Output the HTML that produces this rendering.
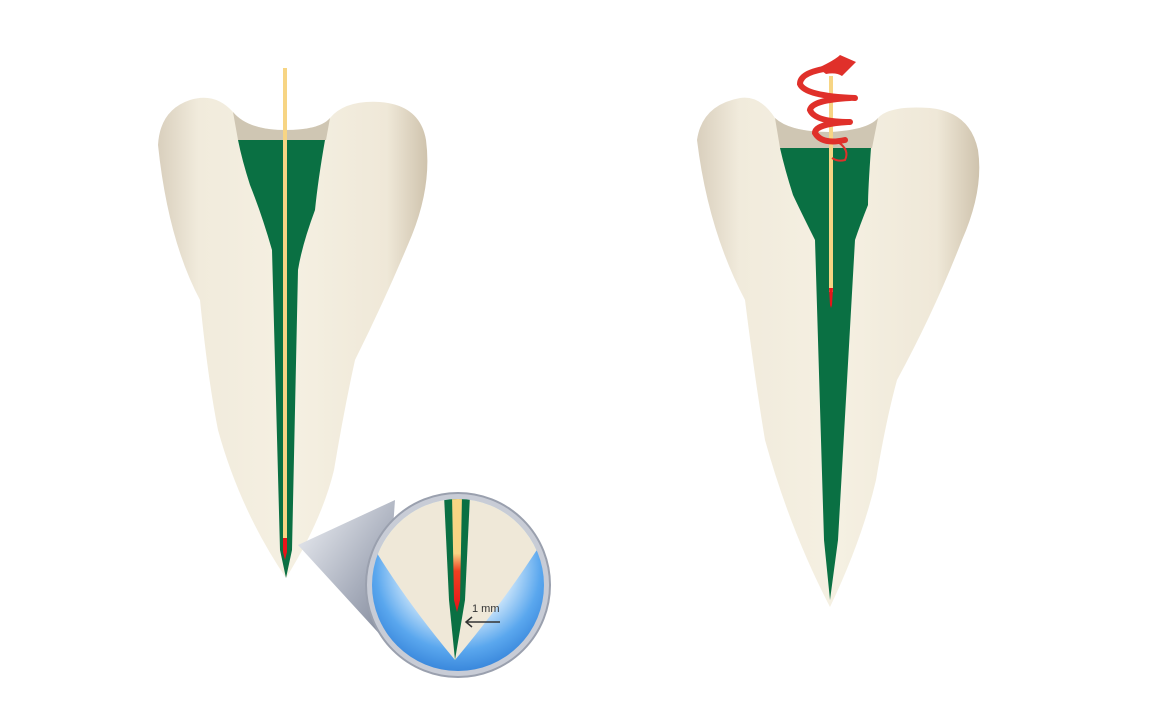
<!DOCTYPE html>
<html><head><meta charset="utf-8"><style>
html,body{margin:0;padding:0;background:#fff;}
svg{display:block;}
</style></head><body>
<svg width="1167" height="722" viewBox="0 0 1167 722" xmlns="http://www.w3.org/2000/svg">
<defs>
<linearGradient id="tooth" x1="0" x2="1" y1="0" y2="0">
<stop offset="0" stop-color="#d9cfbd"/><stop offset="0.15" stop-color="#f1ebdc"/><stop offset="0.5" stop-color="#f5f0e2"/><stop offset="0.85" stop-color="#efe8d8"/><stop offset="1" stop-color="#cfc3ad"/>
</linearGradient>
<linearGradient id="cone" x1="0" x2="1" y1="0" y2="1">
<stop offset="0" stop-color="#f0f2f6"/><stop offset="0.6" stop-color="#a9afbd"/><stop offset="1" stop-color="#7d8496"/>
</linearGradient>
<radialGradient id="blue" cx="0.5" cy="0.4" r="0.6">
<stop offset="0.5" stop-color="#cfe7fb"/><stop offset="0.8" stop-color="#5aa7ee"/><stop offset="1" stop-color="#3a88dc"/>
</radialGradient>
<linearGradient id="tip" x1="0" x2="0" y1="0" y2="1">
<stop offset="0" stop-color="#f7d584"/><stop offset="0.5" stop-color="#f7d584"/><stop offset="0.65" stop-color="#f04020"/><stop offset="1" stop-color="#e8141a"/>
</linearGradient>
<clipPath id="circ"><circle cx="458" cy="585" r="86"/></clipPath>
</defs>

<!-- LEFT TOOTH -->
<path d="M233,112 Q215,92 190,100 Q160,110 158,145 Q168,240 200,300 Q208,380 218,430 Q240,510 286,578 Q322,520 334,470 Q344,410 355,360 Q385,300 412,235 Q432,185 426,140 Q420,105 380,102 Q345,100 330,118 Q320,130 285,130 Q248,130 233,112 Z" fill="url(#tooth)"/>
<path d="M233,112 Q248,130 285,130 Q320,130 330,118 L326,140 L238,140 Z" fill="#cfc6b3"/>
<path d="M238,140 L325,140 Q318,180 315,210 Q302,245 298,270 L292,550 L286,578 L280,550 L272,250 Q262,215 250,185 Q242,160 238,140 Z" fill="#0a7043"/>
<rect x="283" y="68" width="4" height="480" fill="#f7d584"/>
<path d="M283,538 L287,538 L287,552 L285,560 L283,552 Z" fill="#e8141a"/>

<!-- magnifier cone -->
<path d="M298,545 L395,500 L385,640 Z" fill="url(#cone)"/>
<circle cx="458" cy="585" r="92" fill="#c8ccd6" stroke="#9aa0ae" stroke-width="2"/>
<circle cx="458" cy="585" r="86" fill="url(#blue)"/>
<g clip-path="url(#circ)">
<path d="M360,495 L372,545 Q405,600 455,660 Q505,600 540,545 L556,495 Z" fill="#efe8d8"/>
<path d="M444,495 L470,495 L465,600 L455,660 L449,600 Z" fill="#0a7043"/>
<path d="M452,495 L462,495 L460,600 L457,612 L454,600 Z" fill="url(#tip)"/>
</g>
<text x="472" y="612" font-family="Liberation Sans, sans-serif" font-size="11" fill="#333">1 mm</text>
<path d="M500,622 L466,622 M472,617 L466,622 L472,627" stroke="#333" stroke-width="1.5" fill="none"/>

<!-- RIGHT TOOTH -->
<path d="M775,118 Q760,95 740,98 Q702,105 697,140 Q708,230 745,300 Q755,380 765,440 Q790,530 830,607 Q862,540 876,480 Q886,420 897,380 Q935,310 962,240 Q984,190 978,150 Q970,112 930,108 Q890,105 878,118 Q868,130 830,132 Q790,132 775,118 Z" fill="url(#tooth)"/>
<path d="M775,118 Q790,132 830,132 Q868,130 878,118 L872,148 L780,148 Z" fill="#cfc6b3"/>
<path d="M780,148 L871,148 Q868,190 868,205 Q860,225 855,240 L838,540 L830,600 L824,540 L815,240 Q800,210 793,195 Q785,170 780,148 Z" fill="#0a7043"/>
<rect x="829" y="76" width="4" height="216" fill="#f7d584"/>
<path d="M829,288 L833,288 L832,305 L831,308 L830,305 Z" fill="#e8141a"/>
<!-- spiral arrow -->
<g fill="none" stroke="#e0302a" stroke-width="6" stroke-linecap="round">
<path d="M830,68 Q800,72 800,84 Q805,96 855,98"/>
<path d="M850,98 Q812,100 810,110 Q815,122 850,122"/>
<path d="M848,122 Q815,124 815,133 Q822,145 845,140"/>
</g>
<path d="M818,68 Q835,60 840,55 L856,62 L842,76 Q836,72 826,74 Z" fill="#e0302a"/>
<path d="M838,142 Q850,150 845,160 Q838,162 832,158" fill="none" stroke="#e0302a" stroke-width="2"/>
</svg>
</body></html>
